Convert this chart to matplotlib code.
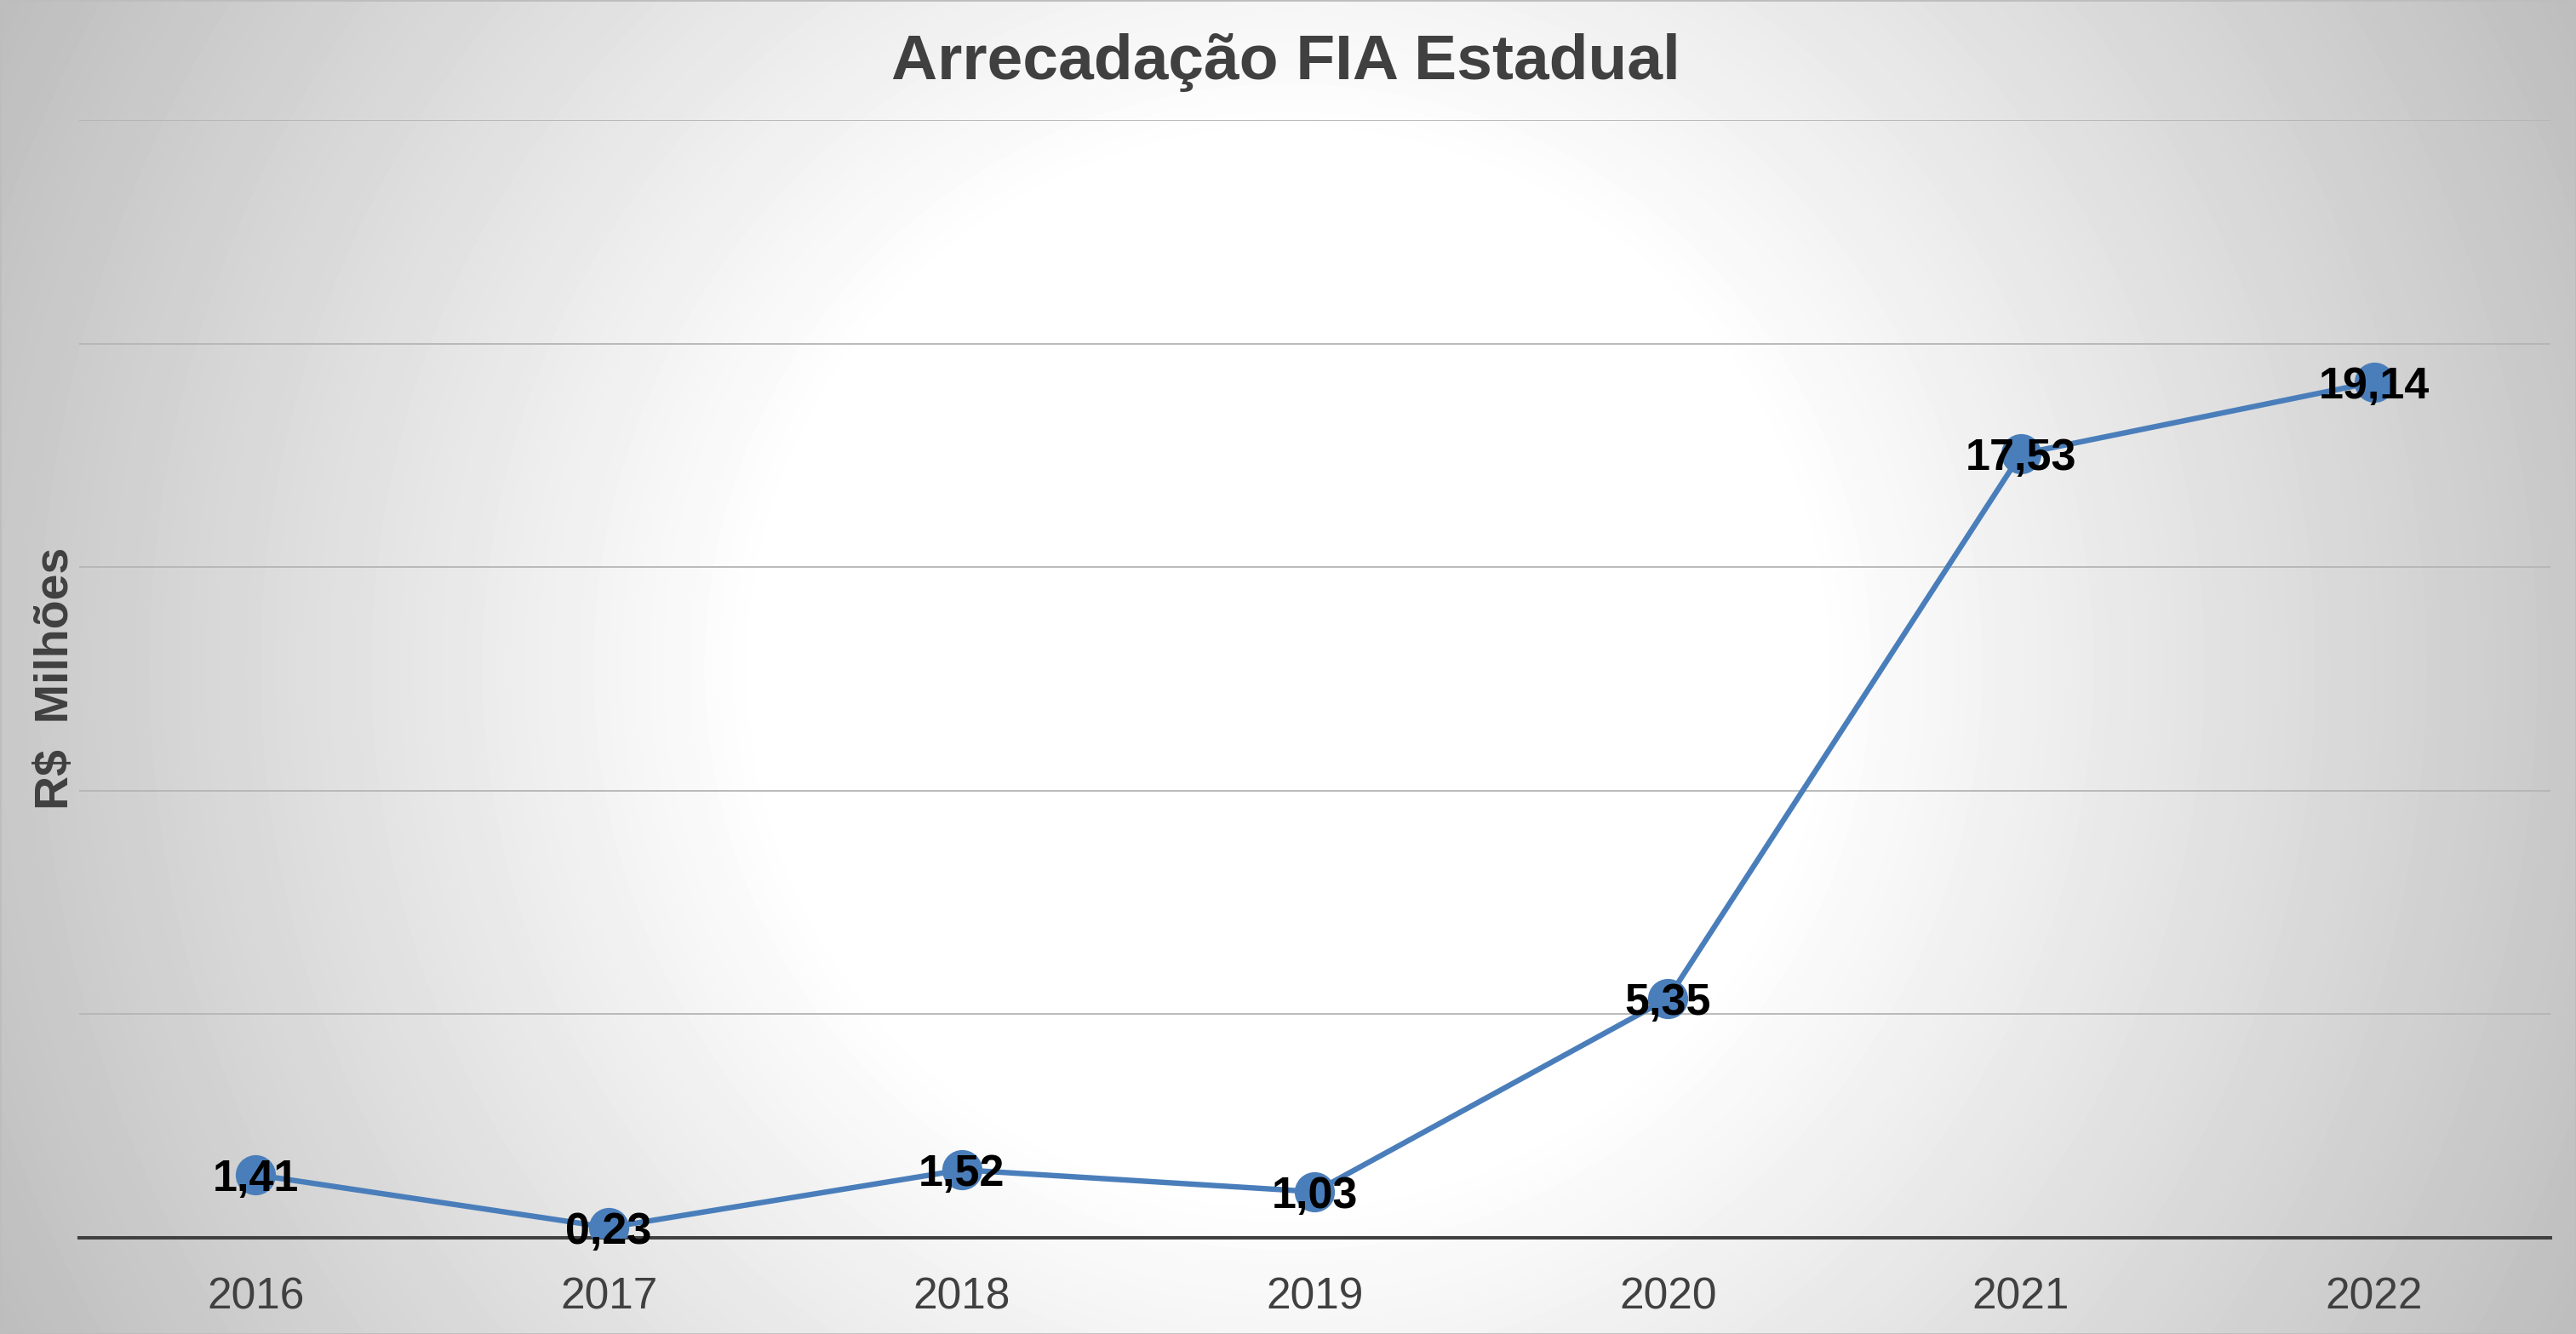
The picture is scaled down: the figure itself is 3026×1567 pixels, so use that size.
import matplotlib

matplotlib.use('Agg')
import matplotlib.pyplot as plt
import numpy as np
from matplotlib.patches import Rectangle

plt.rcParams['font.family'] = ['Liberation Sans', 'DejaVu Sans']

anos = ['2016', '2017', '2018', '2019', '2020', '2021', '2022']
arrecadacao = [1.41, 0.23, 1.52, 1.03, 5.35, 17.53, 19.14]

W, H = 3026, 1567
fig = plt.figure(figsize=(W / 100, H / 100), dpi=100)

# radial grey background, white in the middle
bg = fig.add_axes([0, 0, 1, 1], zorder=-2)
yy, xx = np.mgrid[0:H, 0:W]
r = np.hypot(xx - W / 2, yy - H / 2)
shade = 255 - 66 * np.clip((r - 620) / 1080, 0, 1)
bg.imshow(shade, cmap='gray', vmin=0, vmax=255, aspect='auto', interpolation='bilinear')
bg.axis('off')
fig.patches.append(Rectangle((0, 0), 1, 1, transform=fig.transFigure, fill=False,
                             edgecolor='#bdbdbd', linewidth=2))

ax = fig.add_axes([93 / W, 1 - 1454 / H, (2996 - 93) / W, (1454 - 141) / H])
ax.patch.set_alpha(0)
x = np.arange(len(anos))
ax.plot(x, arrecadacao, color='#4a7ebb', linewidth=4.6, marker='o', markersize=34,
        markeredgewidth=0, zorder=3)
for xi, v in zip(x, arrecadacao):
    ax.annotate(f'{v:.2f}'.replace('.', ','), (xi, v), xytext=(0, -13.5),
                textcoords='offset points', ha='center', va='baseline',
                fontsize=37.5, fontweight='bold', color='black', zorder=4)

ax.set_xlim(-0.5, len(anos) - 0.5)
ax.set_ylim(0, 25)
ax.set_yticks(np.arange(0, 26, 5))
ax.yaxis.grid(True, color='#b5b5b5', linewidth=1.3)
ax.set_axisbelow(True)
ax.set_yticklabels([])
ax.set_xticks(x)
ax.set_xticklabels(anos, fontsize=37, color='#404040')
ax.tick_params(axis='both', length=0)
ax.tick_params(axis='x', pad=33)
for s in ['top', 'right', 'left']:
    ax.spines[s].set_visible(False)
ax.spines['bottom'].set_color('#404040')
ax.spines['bottom'].set_linewidth(2.9)
ax.spines['bottom'].set_zorder(2)

fig.text(1510 / W, 1 - 73 / H, 'Arrecadação FIA Estadual', ha='center', va='center',
         fontsize=54, fontweight='bold', color='#404040')
fig.text(66 / W, 1 - 797 / H, 'R$  Milhões', rotation=90, ha='center', va='center',
         fontsize=40, fontweight='bold', color='#404040')

fig.savefig('out.png', dpi=100)
